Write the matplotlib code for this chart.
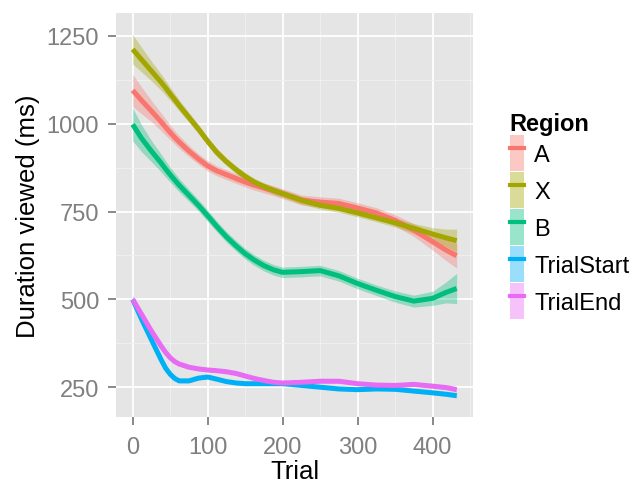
import matplotlib

matplotlib.use("Agg")
import matplotlib.pyplot as plt
from matplotlib.lines import Line2D
from matplotlib.patches import Patch
from matplotlib.ticker import MultipleLocator

plt.rcParams["font.family"] = ["Liberation Sans", "DejaVu Sans"]

# smoothed duration curves, by trial
trial = [0, 12, 25, 38, 44, 50, 56, 62, 75, 88, 100, 112, 125, 138, 150, 162,
         175, 188, 200, 225, 250, 275, 300, 325, 350, 375, 400, 418, 432]

regions = ["A", "X", "B", "TrialStart", "TrialEnd"]
colors = ["#F8766D", "#A3A500", "#00BF7D", "#00B0F6", "#E76BF3"]

dur_a = [1095, 1066, 1036, 1005, 990, 975, 961, 948, 922, 899, 880, 866, 855,
         844, 834, 825, 817, 809, 801, 783, 777, 773, 760, 746, 725, 697, 664,
         640, 624]
dur_x = [1212, 1182, 1150, 1118, 1102, 1085, 1069, 1052, 1018, 984, 950, 919,
         892, 869, 850, 834, 821, 810, 801, 782, 768, 759, 746, 732, 718, 702,
         686, 675, 667]
dur_b = [998, 958, 922, 888, 871, 855, 840, 825, 796, 767, 738, 708, 678, 652,
         630, 612, 596, 584, 577, 579, 582, 567, 545, 526, 508, 495, 503, 520,
         531]
dur_start = [500, 443, 385, 328, 304, 287, 275, 268, 268, 276, 279, 273, 266,
             262, 260, 260, 260, 260, 260, 255, 250, 245, 243, 245, 244, 239,
             234, 230, 226]
dur_end = [500, 457, 410, 367, 349, 334, 323, 316, 307, 302, 299, 297, 294,
           289, 282, 275, 269, 264, 262, 264, 267, 267, 260, 256, 255, 258,
           253, 249, 243]

# half-width of the confidence band
se_a = [46, 38, 30, 25, 23, 21, 19, 18, 16, 15, 15, 14, 14, 14, 14, 14, 14,
        14, 14, 14, 15, 15, 15, 15, 16, 18, 24, 30, 35]
se_x = [42, 35, 28, 23, 21, 19, 17, 16, 14, 13, 12, 12, 11, 11, 11, 11, 11,
        11, 11, 11, 11, 11, 11, 11, 12, 14, 18, 25, 33]
se_b = [47, 38, 30, 25, 23, 21, 20, 19, 17, 16, 16, 15, 15, 15, 15, 15, 15,
        15, 15, 15, 15, 15, 15, 15, 16, 17, 20, 30, 43]
se_start = [10, 8, 6, 5, 5, 5, 5, 5, 5, 5, 5, 4, 4, 4, 4, 4, 4, 4, 4, 4, 4,
            4, 4, 4, 4, 5, 5, 6, 7]
se_end = [10, 8, 6, 5, 5, 5, 5, 5, 5, 5, 5, 4, 4, 4, 4, 4, 4, 4, 4, 4, 4, 4,
          4, 4, 4, 5, 5, 6, 7]

series = [dur_a, dur_x, dur_b, dur_start, dur_end]
bands = [se_a, se_x, se_b, se_start, se_end]

fig = plt.figure(figsize=(6.33, 4.85), dpi=100)
ax = fig.add_axes([0.184, 0.138, 0.563, 0.833])
ax.set_facecolor("#E5E5E5")

handles = []
for name, col, y, se in zip(regions, colors, series, bands):
    lo = [v - s for v, s in zip(y, se)]
    hi = [v + s for v, s in zip(y, se)]
    ax.fill_between(trial, lo, hi, color=col, alpha=0.35, lw=0, zorder=2)
    ax.plot(trial, y, color=col, lw=3.6, solid_capstyle="butt",
            solid_joinstyle="round", zorder=3)
    handles.append((Patch(facecolor=col, alpha=0.4, lw=0),
                    Line2D([], [], color=col, lw=3)))

ax.set_xlim(-21.6, 453.6)
ax.set_ylim(165, 1315)
ax.xaxis.set_major_locator(MultipleLocator(100))
ax.xaxis.set_minor_locator(MultipleLocator(50))
ax.yaxis.set_major_locator(MultipleLocator(250))
ax.yaxis.set_minor_locator(MultipleLocator(125))
ax.grid(which="major", color="white", lw=1.3, zorder=1)
ax.grid(which="minor", color="#F2F2F2", lw=0.6, zorder=1)
ax.set_axisbelow(True)
for sp in ax.spines.values():
    sp.set_visible(False)
ax.tick_params(which="major", length=5.5, width=1.3, color="#7F7F7F",
               labelcolor="#7F7F7F", labelsize=17)
ax.tick_params(axis="x", pad=8)
ax.tick_params(axis="y", pad=7)
ax.tick_params(which="minor", length=0)

ax.set_xlabel("Trial", fontsize=18.5, labelpad=1)
ax.set_ylabel("Duration viewed (ms)", fontsize=18.5, labelpad=5)

leg = fig.legend(handles, regions, loc="upper left",
                 bbox_to_anchor=(0.805, 0.768), frameon=False,
                 title="Region", fontsize=17, handlelength=0.6,
                 handleheight=2.0, labelspacing=0.02, handletextpad=0.45,
                 borderaxespad=0, borderpad=0)
leg.get_title().set_fontweight("bold")
leg.get_title().set_fontsize(17)
leg._legend_box.align = "left"

fig.savefig("out.png", dpi=100)
